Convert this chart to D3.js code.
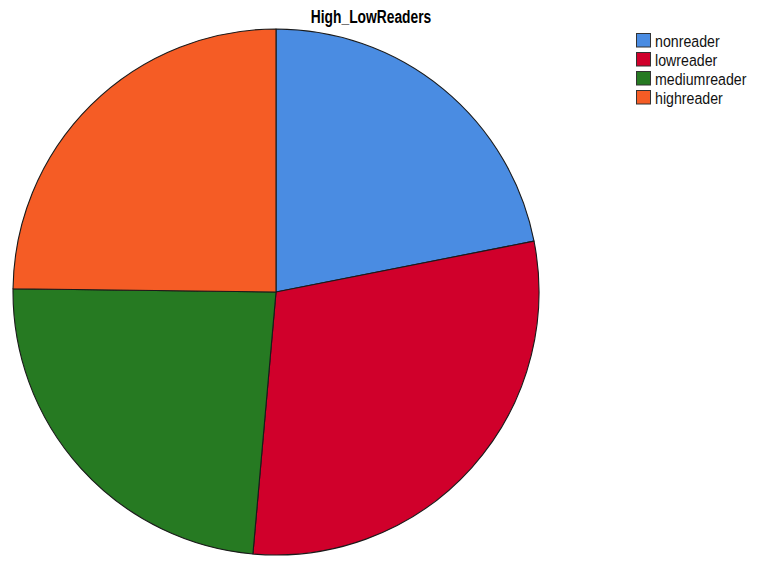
<!DOCTYPE html>
<html>
<head>
<meta charset="utf-8">
<script src="https://cdn.jsdelivr.net/npm/d3@7"></script>
<style>
  html, body { margin: 0; padding: 0; background: #fff; }
  svg { display: block; }
</style>
</head>
<body>
<svg id="chart" width="763" height="561"></svg>
<script>
// Reader groups and their shares (percent)
const categories = ["nonreader", "lowreader", "mediumreader", "highreader"];
const values = [21.9, 29.5, 23.8, 24.8];
const colors = ["#4A8CE2", "#D0002B", "#267A22", "#F55C25"];
const title = "High_LowReaders";

// Narrow sans look: regular sans squeezed horizontally
const fontFamily = "'Liberation Sans', Arial, sans-serif";

const svg = d3.select("#chart");
const cx = 276, cy = 292, radius = 263;

const color = d3.scaleOrdinal().domain(categories).range(colors);

const pie = d3.pie().sort(null).value(d => d.value);
const arc = d3.arc().innerRadius(0).outerRadius(radius);

const data = categories.map((c, i) => ({ name: c, value: values[i] }));

const g = svg.append("g").attr("transform", `translate(${cx},${cy})`);
g.selectAll("path")
  .data(pie(data))
  .join("path")
  .attr("d", arc)
  .attr("fill", d => color(d.data.name))
  .attr("stroke", "#1a1a1a")
  .attr("stroke-width", 1.1)
  .attr("stroke-linejoin", "round");

svg.append("g")
  .attr("transform", "translate(371,23) scale(0.79,1)")
  .append("text")
  .attr("text-anchor", "middle")
  .attr("font-family", fontFamily)
  .attr("font-weight", "bold")
  .attr("font-size", 17.5)
  .attr("fill", "#000")
  .text(title);

// Legend
const legend = svg.append("g").attr("transform", "translate(636,33)");
const rows = legend.selectAll("g")
  .data(categories)
  .join("g")
  .attr("transform", (d, i) => `translate(0,${i * 19})`);
rows.append("rect")
  .attr("x", 0.5).attr("y", 0.5)
  .attr("width", 14).attr("height", 13.5)
  .attr("fill", d => color(d))
  .attr("stroke", "#333")
  .attr("stroke-width", 1);
rows.append("g")
  .attr("transform", "translate(19,14) scale(0.86,1)")
  .append("text")
  .attr("font-family", fontFamily)
  .attr("font-size", 16.5)
  .attr("fill", "#111")
  .text(d => d);
</script>
</body>
</html>
